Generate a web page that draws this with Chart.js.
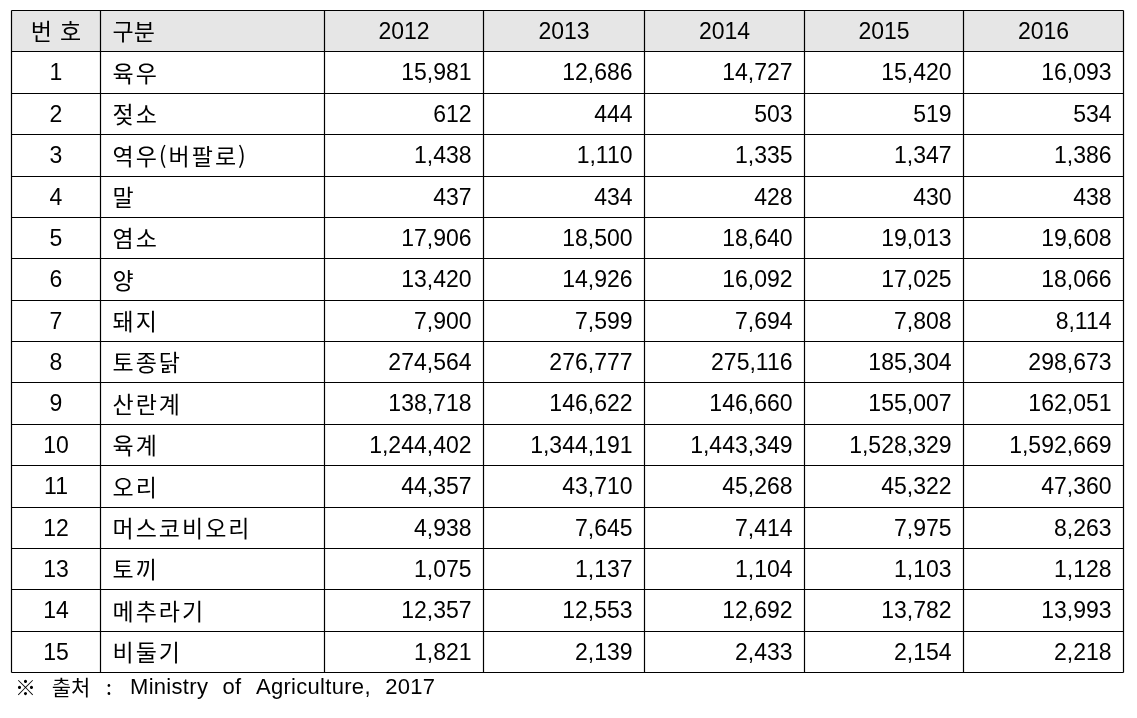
<!DOCTYPE html>
<html lang="ko">
<head>
  <meta charset="utf-8">
  <title>가축 사육 두수</title>
  <style>
    body { margin: 0; background: #ffffff; }
    canvas { display: block; }
  </style>
</head>
<body>
  <canvas id="myChart" width="1137" height="718"></canvas>

  <script src="https://cdn.jsdelivr.net/npm/chart.js@4.4.1/dist/chart.umd.min.js"></script>
  <script>
    // 표 데이터
    var headNo = '번호';
    var headCat = '구분';
    var years = ['2012', '2013', '2014', '2015', '2016'];
    var categories = ['육우', '젖소', '역우(버팔로)', '말', '염소', '양', '돼지', '토종닭',
      '산란계', '육계', '오리', '머스코비오리', '토끼', '메추라기', '비둘기'];
    var v2012 = [15981, 612, 1438, 437, 17906, 13420, 7900, 274564, 138718, 1244402, 44357, 4938, 1075, 12357, 1821];
    var v2013 = [12686, 444, 1110, 434, 18500, 14926, 7599, 276777, 146622, 1344191, 43710, 7645, 1137, 12553, 2139];
    var v2014 = [14727, 503, 1335, 428, 18640, 16092, 7694, 275116, 146660, 1443349, 45268, 7414, 1104, 12692, 2433];
    var v2015 = [15420, 519, 1347, 430, 19013, 17025, 7808, 185304, 155007, 1528329, 45322, 7975, 1103, 13782, 2154];
    var v2016 = [16093, 534, 1386, 438, 19608, 18066, 8114, 298673, 162051, 1592669, 47360, 8263, 1128, 13993, 2218];
    var sourceMark = '※ 출처 :';
    var sourceText = 'Ministry of Agriculture, 2017';

    var series = [v2012, v2013, v2014, v2015, v2016];

    // 열 너비 (x축 단위)
    var colWidths = [89, 224, 159, 160, 160, 159, 160];
    var colEdges = [0];
    colWidths.forEach(function (w) { colEdges.push(colEdges[colEdges.length - 1] + w); });
    var rowCount = categories.length + 1;

    var numFont = '23px "Liberation Sans", Arial, sans-serif';
    var korFont = '23px "Noto Sans CJK KR", sans-serif';

    var tablePlugin = {
      id: 'tableDraw',
      afterDraw: function (chart) {
        var ctx = chart.ctx;
        var xs = chart.scales.x;
        var ys = chart.scales.y;
        var X = function (v) { return Math.round(xs.getPixelForValue(v)) + 0.5; };
        var Y = function (v) { return Math.round(ys.getPixelForValue(v)) + 0.5; };
        var midY = function (r) { return (ys.getPixelForValue(r) + ys.getPixelForValue(r + 1)) / 2; };

        ctx.save();
        // 머리글 배경
        ctx.fillStyle = '#e6e6e6';
        ctx.fillRect(X(0), Y(0), X(colEdges[colEdges.length - 1]) - X(0), Y(1) - Y(0));

        // 격자
        ctx.strokeStyle = '#000000';
        ctx.lineWidth = 1.2;
        ctx.beginPath();
        for (var r = 0; r <= rowCount; r++) {
          ctx.moveTo(X(0), Y(r));
          ctx.lineTo(X(colEdges[colEdges.length - 1]), Y(r));
        }
        colEdges.forEach(function (e) {
          ctx.moveTo(X(e), Y(0));
          ctx.lineTo(X(e), Y(rowCount));
        });
        ctx.stroke();

        ctx.fillStyle = '#000000';
        ctx.textBaseline = 'middle';

        // 머리글
        ctx.font = korFont;
        ctx.textAlign = 'center';
        ctx.letterSpacing = '8px';
        ctx.fillText(headNo, (X(colEdges[0]) + X(colEdges[1])) / 2 + 4, midY(0) + 1);
        ctx.textAlign = 'left';
        ctx.letterSpacing = '0px';
        ctx.fillText(headCat, X(colEdges[1]) + 12, midY(0) + 1);
        ctx.font = numFont;
        ctx.textAlign = 'center';
        years.forEach(function (y, i) {
          ctx.fillText(y, (X(colEdges[i + 2]) + X(colEdges[i + 3])) / 2, midY(0) + 2);
        });

        // 본문
        categories.forEach(function (c, i) {
          var my = midY(i + 1) + 1;
          ctx.font = numFont;
          ctx.textAlign = 'center';
          ctx.letterSpacing = '0px';
          ctx.fillText(String(i + 1), (X(colEdges[0]) + X(colEdges[1])) / 2, my + 1);
          ctx.font = korFont;
          ctx.textAlign = 'left';
          ctx.letterSpacing = '2px';
          ctx.fillText(c, X(colEdges[1]) + 12, my);
          ctx.font = numFont;
          ctx.letterSpacing = '0px';
          ctx.textAlign = 'right';
          series.forEach(function (s, j) {
            ctx.fillText(s[i].toLocaleString('en-US'), X(colEdges[j + 3]) - 12, my + 1);
          });
        });

        // 출처
        var fy = Y(rowCount) + 15;
        ctx.textAlign = 'left';
        ctx.font = '21px "Noto Sans CJK KR", sans-serif';
        ctx.letterSpacing = '0px';
        ctx.wordSpacing = '11px';
        ctx.fillText(sourceMark, 15, fy);
        ctx.font = '22px "Liberation Sans", sans-serif';
        ctx.letterSpacing = '0.3px';
        ctx.wordSpacing = '8px';
        ctx.fillText(sourceText, 130, fy);
        ctx.restore();
      }
    };

    var ctx = document.getElementById('myChart').getContext('2d');
    var myChart = new Chart(ctx, {
      type: 'scatter',
      data: { datasets: [] },
      options: {
        responsive: false,
        animation: false,
        layout: { padding: { left: 11, top: 10, right: 14, bottom: 46 } },
        plugins: { legend: { display: false }, tooltip: { enabled: false } },
        scales: {
          x: { type: 'linear', display: false, min: 0, max: colEdges[colEdges.length - 1] },
          y: { type: 'linear', display: false, min: 0, max: rowCount, reverse: true }
        }
      },
      plugins: [tablePlugin]
    });
  </script>
</body>
</html>
